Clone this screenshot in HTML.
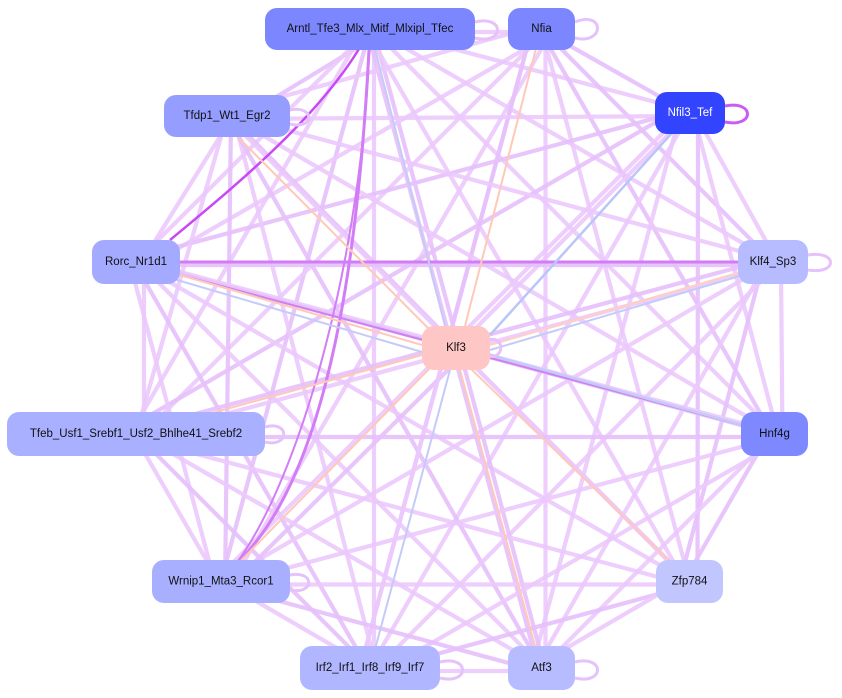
<!DOCTYPE html>
<html><head><meta charset="utf-8"><style>
html,body{margin:0;padding:0;background:#fff;width:842px;height:698px;overflow:hidden}
svg{display:block}
text{font-family:"Liberation Sans",sans-serif;font-size:11.5px;text-anchor:middle;dominant-baseline:central;fill:#111}
</style></head><body>
<svg width="842" height="698" viewBox="0 0 842 698" xmlns="http://www.w3.org/2000/svg">
<g id="edges" fill="none" stroke="#ebc9fc" stroke-width="4.2" stroke-opacity="0.9"></g>
<g fill="none" stroke-width="3">
<path d="M370,29 C330,110 230,190 170,240" stroke="#c848f4" stroke-width="2.5"/>
<path d="M135,262 L775,262" stroke="#d27cf6"/>
<path d="M370,29 C360,250 330,470 240,560" stroke="#d27cf6"/>
<path d="M370,29 C365,250 300,480 235,565" stroke="#d27cf6" stroke-width="2"/>
<path d="M775,434 L180,275" stroke="#cc80f2" stroke-width="2"/>
<path d="M690,113 L490,335" stroke="#bac6f8" stroke-width="2.5"/>
<path d="M775,434 L490,355" stroke="#c4cbf8" stroke-width="2.5"/>
<path d="M775,262 L490,345" stroke="#ffd0c0" stroke-width="2"/>
<path d="M760,270 L490,350" stroke="#c4cbf8" stroke-width="2"/>
<path d="M135,262 L422,345" stroke="#ffc8b8" stroke-width="2"/>
<path d="M150,272 L422,352" stroke="#c4cbf8" stroke-width="2"/>
<path d="M136,434 L422,355" stroke="#ffc8b8" stroke-width="2"/>
<path d="M690,581 L470,368" stroke="#ffc8b8" stroke-width="2"/>
<path d="M541,668 L460,370" stroke="#ffc8b8" stroke-width="2"/>
<path d="M370,668 L450,370" stroke="#c4cbf8" stroke-width="2"/>
<path d="M221,581 L430,368" stroke="#ffc8b8" stroke-width="2"/>
<path d="M217,116 L430,330" stroke="#ffc8b8" stroke-width="2"/>
<path d="M370,29 L445,326" stroke="#c4cbf8" stroke-width="2"/>
<path d="M541,29 L465,326" stroke="#ffc8b8" stroke-width="2"/>
</g>
<g fill="none" stroke="#e6c2fb" stroke-width="3">
<path d="M475,22 C505,15 505,45 475,38"/>
<path d="M575,22 C605,10 605,45 575,38"/>
<path d="M725,106 C755,100 755,128 725,122" stroke="#c95cf5"/>
<path d="M290,110 C315,105 315,130 290,124"/>
<path d="M808,255 C838,250 838,275 808,270"/>
<path d="M488,340 C505,335 505,360 488,356"/>
<path d="M265,427 C290,420 290,448 265,442"/>
<path d="M290,575 C315,570 315,595 290,590"/>
<path d="M440,662 C470,655 470,685 440,678"/>
<path d="M575,662 C605,655 605,685 575,678"/>
</g>
<g id="nodes"></g>
</svg>
<script>
var N=[
["Arntl_Tfe3_Mlx_Mitf_Mlxipl_Tfec",265,8,210,42,"#7b86ff","#111"],
["Nfia",508,8,67,42,"#7b86ff","#111"],
["Nfil3_Tef",655,92,70,42,"#3344ff","#fff"],
["Tfdp1_Wt1_Egr2",164,95,126,42,"#959eff","#111"],
["Rorc_Nr1d1",92,240,88,44,"#a3aaff","#111"],
["Klf4_Sp3",738,240,70,44,"#b6bcff","#111"],
["Klf3",422,326,68,44,"#ffc6c6","#111"],
["Tfeb_Usf1_Srebf1_Usf2_Bhlhe41_Srebf2",7,412,258,44,"#a8b0ff","#111"],
["Hnf4g",741,412,67,44,"#7e89ff","#111"],
["Wrnip1_Mta3_Rcor1",152,560,138,43,"#a8afff","#111"],
["Zfp784",656,560,67,43,"#c2c6ff","#111"],
["Irf2_Irf1_Irf8_Irf9_Irf7",300,646,140,44,"#b0b6ff","#111"],
["Atf3",508,646,67,44,"#b6bcff","#111"]];
var ns="http://www.w3.org/2000/svg",E=document.getElementById("edges"),G=document.getElementById("nodes");
function c(n){return[n[1]+n[3]/2,n[2]+n[4]/2]}
for(var i=0;i<N.length;i++)for(var j=i+1;j<N.length;j++){
var a=c(N[i]),b=c(N[j]);
var l=document.createElementNS(ns,"line");
var o=((i*7+j*3)%5)-2;
l.setAttribute("x1",a[0]+o*4);l.setAttribute("y1",a[1]+o*3);l.setAttribute("x2",b[0]+o*4);l.setAttribute("y2",b[1]+o*3);
if((i+j)%3==0)l.setAttribute("stroke","#e6c0fb");E.appendChild(l);}
N.forEach(function(n){var r=document.createElementNS(ns,"rect");
r.setAttribute("x",n[1]);r.setAttribute("y",n[2]);r.setAttribute("width",n[3]);r.setAttribute("height",n[4]);
r.setAttribute("rx",12);r.setAttribute("fill",n[5]);G.appendChild(r);
var t=document.createElementNS(ns,"text");t.setAttribute("x",n[1]+n[3]/2);t.setAttribute("y",n[2]+n[4]/2);
t.setAttribute("style","fill:"+n[6]);t.textContent=n[0];G.appendChild(t);});
</script>
</body></html>
